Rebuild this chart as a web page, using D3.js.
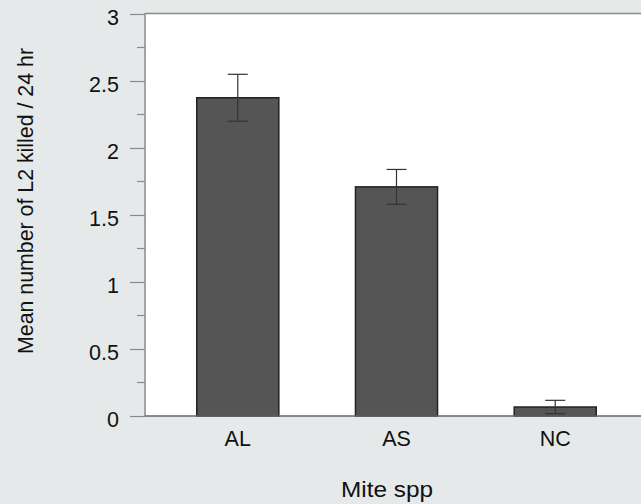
<!DOCTYPE html>
<html>
<head>
<meta charset="utf-8">
<script src="https://cdn.jsdelivr.net/npm/d3@7"></script>
<style>
  body { margin: 0; background: #e6e9e9; }
  svg { display: block; font-family: "Liberation Sans", Arial, sans-serif; }
</style>
</head>
<body>
<svg id="chart" width="641" height="504"></svg>
<script>
// data
const categories = ['AL', 'AS', 'NC']
const means = [2.375, 1.71, 0.067]
const errors = [0.175, 0.13, 0.05]
const yTicks = [0, 0.5, 1, 1.5, 2, 2.5, 3]

const svg = d3.select('#chart')
const width = 641, height = 504
const plotLeft = 145, plotTop = 14, plotBottom = 416
const fontSize = 21.5

let x = d3.scaleBand().domain(categories).range([plotLeft, 648])
    .paddingInner(0.483).paddingOuter(0.326)
let y = d3.scaleLinear().domain([0, 3]).range([plotBottom, plotTop])

//background plot area
svg.append('rect')
    .attr('x', plotLeft).attr('y', plotTop)
    .attr('width', width - plotLeft).attr('height', plotBottom - plotTop)
    .attr('fill', '#fff')
// top border
svg.append('line')
    .attr('x1', plotLeft).attr('x2', width)
    .attr('y1', plotTop - 0.5).attr('y2', plotTop - 0.5)
    .attr('stroke', '#8a8a8a').attr('stroke-width', 1.5)

// bars
svg.append('g').selectAll('rect')
    .data(categories)
    .join('rect')
    .attr('x', d => x(d))
    .attr('width', x.bandwidth())
    .attr('y', (d, i) => y(means[i]))
    .attr('height', (d, i) => y(0) - y(means[i]))
    .attr('fill', '#555555')
    .attr('stroke', '#222')
    .attr('stroke-width', 1.5)

// error bars
let eb = svg.append('g').attr('stroke', '#333').attr('stroke-width', 1.2)
categories.forEach((c, i) => {
    let cx = x(c) + x.bandwidth() / 2
    let hi = y(means[i] + errors[i]), lo = y(Math.max(0, means[i] - errors[i]))
    eb.append('line').attr('x1', cx).attr('x2', cx).attr('y1', hi).attr('y2', lo)
    eb.append('line').attr('x1', cx - 10).attr('x2', cx + 10).attr('y1', hi).attr('y2', hi)
    eb.append('line').attr('x1', cx - 10).attr('x2', cx + 10).attr('y1', lo).attr('y2', lo)
})

// y axis with minor ticks
let minor = d3.range(0, 3.01, 0.25).filter(v => !yTicks.includes(v))
let yAxis = svg.append('g').attr('transform', `translate(${plotLeft},0)`)
yAxis.call(d3.axisLeft(y).tickValues(yTicks).tickSize(15).tickPadding(11).tickFormat(d3.format('')))
yAxis.select('.domain').remove()
yAxis.attr('font-size', null).attr('font-family', null)
yAxis.selectAll('line').attr('stroke', '#8a8a8a').attr('stroke-width', 1.2)
yAxis.selectAll('text').style('font-size', fontSize + 'px').attr('fill', '#111').attr('dy', '0.5em')
yAxis.selectAll('.minor').data(minor).join('line')
    .attr('class', 'minor')
    .attr('x1', -8).attr('x2', 0)
    .attr('y1', d => y(d)).attr('y2', d => y(d))
    .attr('stroke', '#8a8a8a').attr('stroke-width', 1.2)
yAxis.append('line')
    .attr('x1', 0).attr('x2', 0).attr('y1', plotTop - 1).attr('y2', plotBottom)
    .attr('stroke', '#8a8a8a').attr('stroke-width', 1.5)

// x axis
let xAxis = svg.append('g').attr('transform', `translate(0,${plotBottom})`)
xAxis.call(d3.axisBottom(x).tickSize(0).tickPadding(0))
xAxis.attr('font-size', null).attr('font-family', null)
xAxis.select('.domain').attr('stroke', '#666').attr('stroke-width', 1.5)
    .attr('d', `M${plotLeft},0H${width}`)
xAxis.selectAll('text').style('font-size', fontSize + 'px').attr('fill', '#111')
    .attr('y', 30).attr('dy', null)

// titles
svg.append('text')
    .attr('x', 387).attr('y', 497)
    .attr('text-anchor', 'middle').style('font-size', fontSize + 'px').attr('fill', '#111')
    .attr('textLength', 92).attr('lengthAdjust', 'spacingAndGlyphs')
    .text('Mite spp')
svg.append('text')
    .attr('transform', 'translate(33,201) rotate(-90)')
    .attr('text-anchor', 'middle').style('font-size', fontSize + 'px').attr('fill', '#111')
    .attr('textLength', 306).attr('lengthAdjust', 'spacingAndGlyphs')
    .text('Mean number of L2 killed / 24 hr')
</script>
</body>
</html>
